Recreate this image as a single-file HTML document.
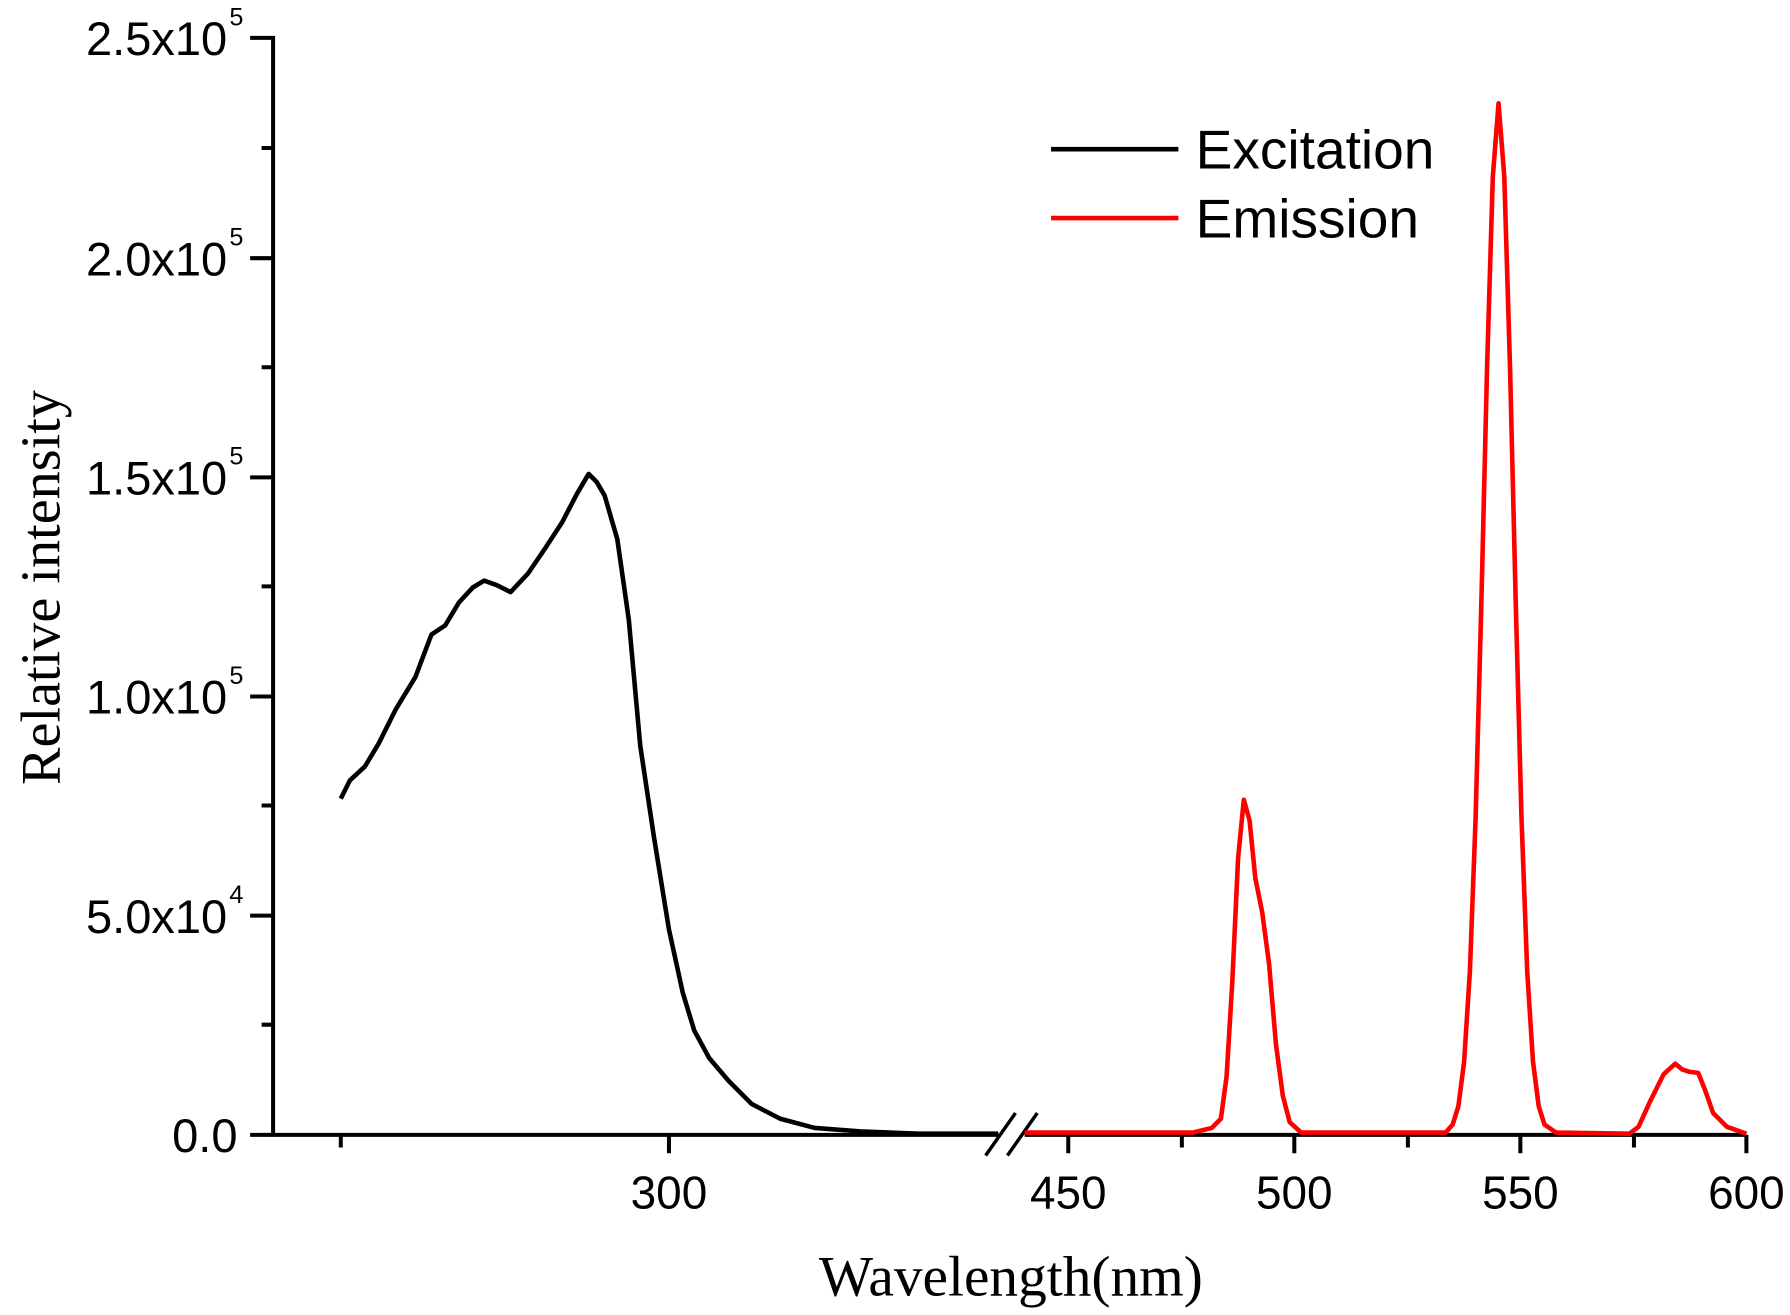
<!DOCTYPE html>
<html><head><meta charset="utf-8"><style>html,body{margin:0;padding:0;background:#fff}svg{display:block}</style></head>
<body>
<svg width="1790" height="1315" viewBox="0 0 1560 1146" xmlns="http://www.w3.org/2000/svg">
<rect width="1560" height="1146" fill="#fff"/>
<g stroke="#000" stroke-width="3.5" fill="none">
<path d="M218,33 H238 V989 H870"/>
<path d="M893,989 H1522"/>
<path d="M218,225 H238 M218,416 H238 M218,607 H238 M218,798 H238 M218,989 H238"/>
<path d="M228,129 H238 M228,320 H238 M228,511 H238 M228,702 H238 M228,893 H238"/>
<path d="M297,989 V1000 M583,989 V1005 M931,989 V1005 M1128,989 V1005 M1325,989 V1005 M1522,989 V1005 M1030,989 V1000 M1227,989 V1000 M1424,989 V1000"/>
<path d="M859,1007 L885,970 M878,1007 L904,970" stroke-width="3"/>
</g>
<polyline fill="none" stroke="#000" stroke-width="4" stroke-linejoin="round" points="297,696 305,680 318,668 330,648 345,618 362,590 376,553 388,545 400,525 412,512 422,506 433,510 445,516 460,500 475,478 490,455 503,430 513,413 520,420 527,432 538,470 548,540 558,650 570,730 583,810 595,865 605,898 618,922 635,942 655,962 680,975 710,983 750,986 800,988 870,988"/>
<polyline fill="none" stroke="#f00" stroke-width="4" stroke-linejoin="round" points="893,987 1040,987 1056,983 1064,975 1069,938 1074,855 1079,748 1084,697 1089,715 1094,765 1100,795 1106,840 1112,910 1118,955 1124,978 1134,987 1260,987 1266,980 1271,964 1276,925 1281,847 1286,713 1291,526 1296,320 1301,154 1306,90 1311,154 1316,320 1321,526 1326,713 1331,847 1336,925 1341,964 1346,980 1356,987 1420,988 1428,982 1438,960 1450,936 1460,927 1466,932 1472,934 1480,935 1486,950 1493,970 1505,982 1522,988"/>
<g font-family="Liberation Sans, sans-serif" font-size="41" fill="#000" text-anchor="end">
<text x="198" y="48">2.5x10</text><text x="206" y="22" font-size="22" text-anchor="middle">5</text>
<text x="198" y="240">2.0x10</text><text x="206" y="214" font-size="22" text-anchor="middle">5</text>
<text x="198" y="431">1.5x10</text><text x="206" y="405" font-size="22" text-anchor="middle">5</text>
<text x="198" y="622">1.0x10</text><text x="206" y="596" font-size="22" text-anchor="middle">5</text>
<text x="198" y="813">5.0x10</text><text x="206" y="787" font-size="22" text-anchor="middle">4</text>
<text x="207" y="1004">0.0</text>
</g>
<g font-family="Liberation Sans, sans-serif" font-size="40" fill="#000" text-anchor="middle">
<text x="583" y="1053">300</text><text x="931" y="1053">450</text><text x="1128" y="1053">500</text><text x="1325" y="1053">550</text><text x="1522" y="1053">600</text>
</g>
<text x="881" y="1129" font-family="Liberation Serif, serif" font-size="50" text-anchor="middle">Wavelength(nm)</text>
<text transform="translate(52,512) rotate(-90)" font-family="Liberation Serif, serif" font-size="49" text-anchor="middle">Relative intensity</text>
<line x1="916" y1="130" x2="1027" y2="130" stroke="#000" stroke-width="4"/>
<line x1="916" y1="190" x2="1027" y2="190" stroke="#f00" stroke-width="4"/>
<g font-family="Liberation Sans, sans-serif" font-size="48" fill="#000">
<text x="1042" y="147">Excitation</text><text x="1042" y="207">Emission</text>
</g>
</svg>
</body></html>
